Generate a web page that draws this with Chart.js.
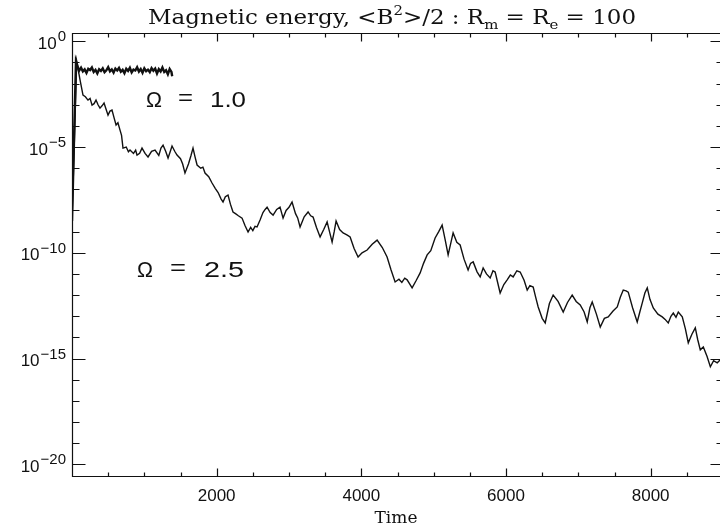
<!DOCTYPE html>
<html>
<head>
<meta charset="utf-8">
<script src="https://cdn.jsdelivr.net/npm/chart.js@4.4.1/dist/chart.umd.min.js"></script>
<style>
html,body{margin:0;padding:0;background:#fff;overflow:hidden;}
#wrap{width:720px;height:530px;overflow:hidden;position:relative;}
canvas{display:block;}
</style>
</head>
<body>
<div id="wrap"><canvas id="c" width="726" height="530"></canvas></div>
<script>
// ---- data (time, log10 of <B^2>/2) ----
const timeOmega25 = [
 0,65,111,152,185,221,250,277,305,332,
 360,387,415,443,470,498,525,553,580,609,
 635,664,685,705,750,780,802,850,880,899,
 935,968,1010,1051,1100,1148,1200,1230,1259,1295,
 1328,1355,1383,1420,1452,1500,1530,1562,1610,1645,
 1673,1700,1729,1780,1810,1839,1890,1936,1980,2020,
 2060,2088,2120,2157,2190,2226,2260,2300,2351,2390,
 2434,2470,2500,2530,2558,2600,2640,2670,2697,2740,
 2780,2830,2876,2918,2960,3000,3042,3090,3120,3153,
 3210,3264,3300,3333,3380,3430,3480,3527,3560,3596,
 3625,3651,3700,3748,3800,3845,3900,3955,4010,4080,
 4150,4218,4290,4356,4410,4467,4520,4560,4600,4633,
 4702,4760,4813,4860,4910,4960,5020,5070,5117,5160,
 5200,5240,5269,5320,5366,5420,5476,5510,5546,5600,
 5643,5684,5730,5781,5820,5850,5919,5970,6016,6060,
 6099,6150,6196,6250,6293,6330,6376,6410,6445,6500,
 6542,6600,6652,6720,6791,6850,6915,6970,7026,7080,
 7123,7160,7192,7250,7303,7360,7413,7480,7538,7580,
 7621,7660,7690,7750,7814,7850,7884,7920,7953,7990,
 8036,8100,8160,8200,8243,8280,8313,8350,8382,8437,
 8480,8520,8570,8617,8650,8686,8728,8780,8825,8870,
 8920,8963,9000];
const logOmega25 = [
 -8.5,-0.95,-1.83,-2.54,-2.62,-2.78,-2.70,-3.02,-2.95,-2.78,
 -3.00,-3.16,-3.05,-2.92,-3.20,-3.49,-3.30,-3.25,-3.60,-3.96,
 -3.85,-4.20,-4.45,-5.05,-5.00,-5.22,-5.14,-5.30,-5.15,-5.38,
 -5.30,-5.05,-5.30,-5.47,-5.20,-5.14,-5.40,-5.05,-4.91,-5.20,
 -5.52,-5.25,-4.95,-5.20,-5.38,-5.55,-5.80,-6.23,-5.80,-5.40,
 -5.05,-5.45,-5.85,-6.00,-5.95,-6.23,-6.40,-6.70,-6.95,-7.15,
 -7.45,-7.60,-7.35,-7.27,-7.70,-8.07,-8.15,-8.25,-8.36,-8.70,
 -9.02,-8.80,-8.95,-8.75,-8.78,-8.45,-8.10,-7.95,-7.84,-8.10,
 -8.22,-7.95,-7.84,-8.36,-8.00,-7.85,-7.60,-8.15,-8.35,-8.78,
 -8.30,-8.07,-8.25,-8.31,-8.80,-9.25,-8.90,-8.54,-9.00,-9.49,
 -9.00,-8.50,-8.90,-9.06,-9.15,-9.25,-9.80,-10.20,-10.00,-9.87,
 -9.60,-9.40,-9.75,-10.20,-10.80,-11.38,-11.25,-11.40,-11.20,-11.28,
 -11.66,-11.30,-10.95,-10.50,-10.10,-9.90,-9.30,-9.00,-8.69,-9.40,
 -10.10,-9.50,-9.06,-9.50,-9.63,-10.30,-10.81,-10.50,-10.43,-10.90,
 -11.14,-10.72,-11.00,-11.19,-10.85,-10.91,-11.90,-11.50,-11.28,-11.05,
 -11.14,-10.85,-10.91,-11.30,-11.76,-11.55,-11.62,-12.10,-12.56,-13.10,
 -13.32,-12.40,-12.00,-12.30,-12.80,-12.35,-12.00,-12.30,-12.47,-12.80,
 -13.27,-12.60,-12.33,-12.90,-13.51,-13.10,-13.03,-12.75,-12.56,-12.10,
 -11.76,-11.80,-11.86,-12.60,-13.27,-12.80,-12.37,-11.90,-11.66,-12.20,
 -12.61,-12.90,-13.03,-13.15,-13.32,-13.00,-12.85,-13.05,-12.80,-13.03,
 -13.60,-14.26,-13.85,-13.55,-14.10,-14.59,-14.45,-14.90,-15.39,-15.10,
 -15.20,-15.06,-15.00];

const timeOmega10 = [0,55,97,125,150,175,200,225,250,275,300,325,350,375,400,425,450,475,500,525,550,575,600,625,650,675,700,725,750,775,800,825,850,875,900,925,950,975,1000,1025,1050,1075,1100,1125,1150,1175,1200,1225,1250,1275,1300,1325,1350,1375,1385];
const logOmega10 = [-8.5,-0.94,-1.40,
 -1.25,-1.42,-1.33,-1.50,-1.30,-1.36,-1.24,-1.45,-1.35,-1.52,
 -1.32,-1.40,-1.28,-1.46,-1.37,-1.22,-1.42,-1.33,-1.48,-1.29,
 -1.38,-1.26,-1.44,-1.35,-1.51,-1.30,-1.40,-1.25,-1.47,-1.34,
 -1.38,-1.23,-1.43,-1.31,-1.49,-1.28,-1.41,-1.34,-1.46,-1.27,
 -1.39,-1.29,-1.52,-1.32,-1.43,-1.24,-1.45,-1.37,-1.56,-1.31,
 -1.45,-1.65];

const xTicks = [500,1000,1500,2000,2500,3000,3500,4000,4500,5000,5500,6000,6500,7000,7500,8000,8500,9000];
const xMajorLabels = [2000,4000,6000,8000];
const yDecades = [0,-1,-2,-3,-4,-5,-6,-7,-8,-9,-10,-11,-12,-13,-14,-15,-16,-17,-18,-19,-20];
const yMajorLabels = [0,-5,-10,-15,-20];

const xMin = 0, xMax = 9000;
const yLogMin = -20.554, yLogMax = 0.392;

function toPoints(ts, ls){
  const n = Math.min(ts.length, ls.length);
  const out = [];
  for (let i=0;i<n;i++) out.push({x: ts[i], y: Math.pow(10, ls[i])});
  return out;
}

const INK = '#111';

function stretchText(ctx, text, x, baseline, width, font){
  ctx.font = font;
  const w = ctx.measureText(text).width;
  ctx.save();
  ctx.translate(x, baseline);
  ctx.scale(width / w, 1);
  ctx.textAlign = 'left';
  ctx.textBaseline = 'alphabetic';
  ctx.fillText(text, 0, 0);
  ctx.restore();
}

const decor = {
  id: 'decor',
  afterDraw(chart){
    const ctx = chart.ctx, a = chart.chartArea;
    const xs = chart.scales.x, ys = chart.scales.y;
    ctx.save();
    ctx.strokeStyle = INK; ctx.fillStyle = INK;
    ctx.lineWidth = 1.2;
    const L = Math.round(a.left)+0.5, R = Math.round(a.right)+0.5, T = Math.round(a.top)+0.5, B = Math.round(a.bottom)+0.5;
    ctx.beginPath();
    ctx.moveTo(L,T); ctx.lineTo(R,T); ctx.lineTo(R,B); ctx.lineTo(L,B); ctx.closePath();
    ctx.stroke();
    ctx.beginPath();
    xTicks.forEach(t => {
      const px = Math.round(xs.getPixelForValue(t))+0.5;
      const len = (t % 2000 === 0) ? 8 : 4;
      ctx.moveTo(px, B); ctx.lineTo(px, B-len);
      ctx.moveTo(px, T); ctx.lineTo(px, T+len);
    });
    yDecades.forEach(e => {
      const py = Math.round(ys.getPixelForValue(Math.pow(10,e)))+0.5;
      const len = (e % 5 === 0) ? 13 : 7;
      ctx.moveTo(L, py); ctx.lineTo(L+len, py);
      ctx.moveTo(R, py); ctx.lineTo(R-len, py);
    });
    ctx.stroke();

    ctx.font = '17px "Liberation Sans", Arial, sans-serif';
    ctx.textAlign = 'center'; ctx.textBaseline = 'alphabetic';
    xMajorLabels.forEach(t => {
      ctx.fillText(String(t), xs.getPixelForValue(t), 501);
    });
    yMajorLabels.forEach(e => {
      const py = ys.getPixelForValue(Math.pow(10,e));
      const sup = e === 0 ? '0' : '\u2212' + String(-e);
      ctx.font = '15px "Liberation Sans", Arial, sans-serif';
      ctx.textAlign = 'right';
      ctx.fillText(sup, 66, py);
      const sw = ctx.measureText(sup).width;
      ctx.font = '17px "Liberation Sans", Arial, sans-serif';
      ctx.fillText('10', 66 - sw - 1, py + 7.5);
    });

    ctx.font = '17px "DejaVu Serif", "Liberation Serif", serif';
    ctx.textAlign = 'center';
    ctx.fillText('Time', 396, 523);

    const big = '20px "DejaVu Serif", "Liberation Serif", serif';
    const small = '13px "DejaVu Serif", "Liberation Serif", serif';
    const parts = [
      ['Magnetic energy, <B', big, 0],
      ['2', small, -9],
      ['>/2 : R', big, 0],
      ['m', small, 5],
      [' = R', big, 0],
      ['e', small, 5],
      [' = 100', big, 0]
    ];
    let total = 0;
    parts.forEach(p => { ctx.font = p[1]; total += ctx.measureText(p[0]).width; });
    const sx = 488 / total;
    ctx.save();
    ctx.translate(148, 24);
    ctx.scale(sx, 1);
    ctx.textAlign = 'left';
    let cx = 0;
    parts.forEach(p => { ctx.font = p[1]; ctx.fillText(p[0], cx, p[2]); cx += ctx.measureText(p[0]).width; });
    ctx.restore();

    const af = '22px "Liberation Sans", Arial, sans-serif';
    stretchText(ctx, '\u03A9', 146, 107, 16, af);
    stretchText(ctx, '=', 178, 105, 15, af);
    stretchText(ctx, '1.0', 210, 107, 36, af);
    stretchText(ctx, '\u03A9', 137, 277, 16, af);
    stretchText(ctx, '=', 170, 275, 16, af);
    stretchText(ctx, '2.5', 204, 277, 40, af);
    ctx.restore();
  }
};

new Chart(document.getElementById('c'), {
  type: 'line',
  data: {
    datasets: [
      { label: 'Omega = 2.5', data: toPoints(timeOmega25, logOmega25), borderColor: INK, borderWidth: 1.4, pointRadius: 0, tension: 0, fill: false },
      { label: 'Omega = 1.0', data: toPoints(timeOmega10, logOmega10), borderColor: INK, borderWidth: 2.4, pointRadius: 0, tension: 0, fill: false }
    ]
  },
  options: {
    responsive: false,
    animation: false,
    events: [],
    layout: { padding: { left: 72, top: 33, right: 3, bottom: 54 } },
    plugins: { legend: { display: false }, tooltip: { enabled: false }, title: { display: false } },
    scales: {
      x: { type: 'linear', min: xMin, max: xMax, bounds: 'data', display: false },
      y: { type: 'logarithmic', min: Math.pow(10, yLogMin), max: Math.pow(10, yLogMax), bounds: 'data', display: false }
    }
  },
  plugins: [decor]
});
</script>
</body>
</html>
